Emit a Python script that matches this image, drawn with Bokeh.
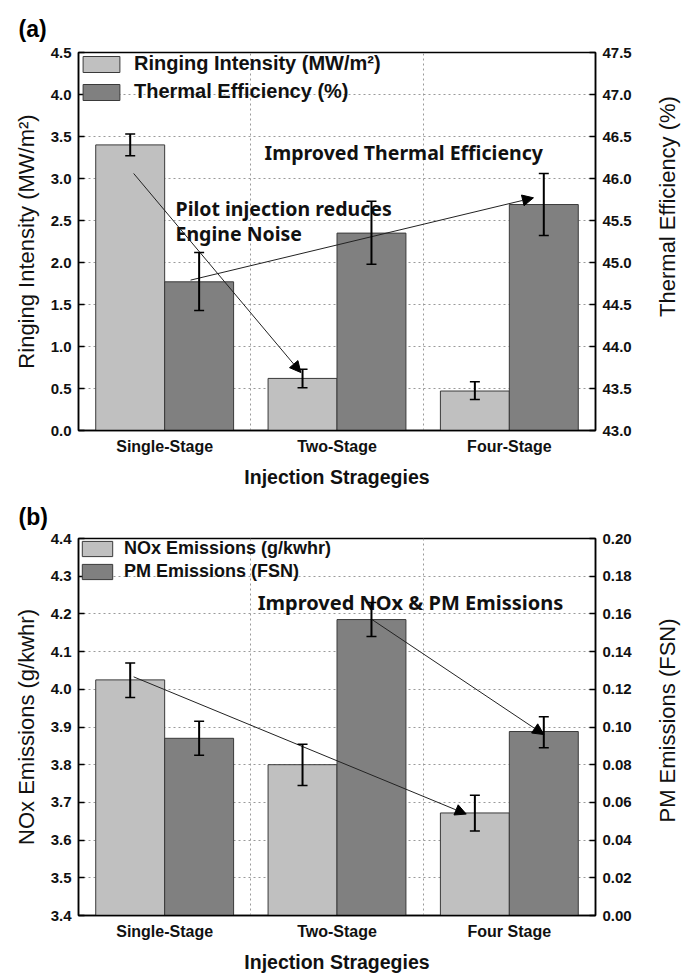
from bokeh.plotting import figure
from bokeh.models import (Range1d, LinearAxis, FixedTicker, Whisker, TeeHead, Arrow, NormalHead,
                          Label, Legend, LegendItem, ColumnDataSource, Grid, PrintfTickFormatter, Title)
from bokeh.layouts import column, row
from bokeh.embed import file_html
from bokeh.resources import INLINE

# ---------------- data ----------------
categories_a = ["Single-Stage", "Two-Stage", "Four-Stage"]
ringing = [3.40, 0.62, 0.47]
ringing_lo = [3.27, 0.51, 0.37]
ringing_hi = [3.53, 0.73, 0.58]
thermal = [44.77, 45.35, 45.69]
thermal_lo = [44.43, 44.98, 45.32]
thermal_hi = [45.12, 45.73, 46.06]

categories_b = ["Single-Stage", "Two-Stage", "Four Stage"]
nox = [4.025, 3.80, 3.672]
nox_lo = [3.978, 3.745, 3.624]
nox_hi = [4.070, 3.854, 3.719]
pm = [0.094, 0.157, 0.0976]
pm_lo = [0.085, 0.148, 0.089]
pm_hi = [0.103, 0.166, 0.1055]

left_ticks_a = [0.0, 0.5, 1.0, 1.5, 2.0, 2.5, 3.0, 3.5, 4.0, 4.5]
right_ticks_a = [43.0, 43.5, 44.0, 44.5, 45.0, 45.5, 46.0, 46.5, 47.0, 47.5]
left_ticks_b = [3.4, 3.5, 3.6, 3.7, 3.8, 3.9, 4.0, 4.1, 4.2, 4.3, 4.4]
right_ticks_b = [0.00, 0.02, 0.04, 0.06, 0.08, 0.10, 0.12, 0.14, 0.16, 0.18, 0.20]

LIGHT = "#c0c0c0"
DARK = "#808080"
EDGE = "#3a3a3a"
AX_FONT = "Liberation Sans"
ANN_FONT = "Noto Sans"
MAIN_W = 652
SIDE_W = 29


def no_align(fig):
    if "frame_align" in fig.properties():
        fig.frame_align = False


def panel(cats, s1, s1lo, s1hi, s2, s2lo, s2hi, lrange, rrange, lticks, rticks,
          lfmt, rfmt, lname, leg1, leg2, height, btop, bbottom, leg_font,
          glyph_w, glyph_h, leg_spacing, leg_pad, leg_standoff, tag, tag_standoff):
    centers = [0.5, 1.5, 2.5]
    p = figure(width=MAIN_W, height=height, x_range=Range1d(0, 3), y_range=Range1d(*lrange),
               output_backend="svg", toolbar_location=None,
               min_border_left=78, min_border_right=MAIN_W - 595, min_border_top=btop,
               min_border_bottom=bbottom)
    no_align(p)
    p.title = Title(text=tag, align="left", offset=-60, standoff=tag_standoff,
                    text_font=AX_FONT, text_font_style="bold", text_font_size="23px",
                    text_color="black")
    p.extra_y_ranges = {"r": Range1d(*rrange)}
    p.outline_line_color = "black"
    p.outline_line_width = 1.5
    p.background_fill_color = "white"
    p.border_fill_color = "white"

    x1 = [c - 0.2 for c in centers]
    x2 = [c + 0.2 for c in centers]
    src1 = ColumnDataSource(dict(x=x1, top=s1, lo=s1lo, hi=s1hi))
    src2 = ColumnDataSource(dict(x=x2, top=s2, lo=s2lo, hi=s2hi))
    r1 = p.vbar(x="x", top="top", bottom=lrange[0], width=0.4, source=src1,
                fill_color=LIGHT, line_color=EDGE, line_width=1)
    r2 = p.vbar(x="x", top="top", bottom=rrange[0], width=0.4, source=src2,
                fill_color=DARK, line_color=EDGE, line_width=1, y_range_name="r")

    for src, rn in ((src1, "default"), (src2, "r")):
        w = Whisker(base="x", upper="hi", lower="lo", source=src, line_width=2,
                    line_color="black", y_range_name=rn, level="overlay",
                    upper_head=TeeHead(size=10, line_width=1.5, line_color="black"),
                    lower_head=TeeHead(size=10, line_width=1.5, line_color="black"))
        p.add_layout(w)

    # axes
    p.xaxis.ticker = FixedTicker(ticks=centers)
    p.xaxis.major_label_overrides = {c: n for c, n in zip(centers, cats)}
    p.xaxis.major_tick_line_color = None
    p.xaxis.major_tick_in = 0
    p.xaxis.major_tick_out = 0
    p.xaxis.minor_tick_line_color = None
    p.xaxis.axis_line_width = 1.5
    p.xaxis.major_label_text_font = AX_FONT
    p.xaxis.major_label_text_font_style = "bold"
    p.xaxis.major_label_text_font_size = "16px"
    p.xaxis.major_label_text_color = "#111111"
    p.xaxis.major_label_standoff = 7
    p.xaxis.axis_label = "Injection Stragegies"
    p.xaxis.axis_label_text_font = AX_FONT
    p.xaxis.axis_label_text_font_style = "bold"
    p.xaxis.axis_label_text_font_size = "19.5px"
    p.xaxis.axis_label_text_color = "#111111"
    p.xaxis.axis_label_standoff = 8

    p.yaxis.ticker = FixedTicker(ticks=lticks)
    p.yaxis.formatter = PrintfTickFormatter(format=lfmt)
    ra = LinearAxis(y_range_name="r", ticker=FixedTicker(ticks=rticks),
                    formatter=PrintfTickFormatter(format=rfmt))
    p.add_layout(ra, "right")
    for ax in (p.yaxis[0], ra):
        ax.major_tick_in = 6
        ax.major_tick_out = 0
        ax.major_tick_line_width = 1.5
        ax.minor_tick_line_color = None
        ax.axis_line_width = 1.5
        ax.major_label_text_font = AX_FONT
        ax.major_label_text_font_style = "bold"
        ax.major_label_text_font_size = "15px"
        ax.major_label_text_color = "#111111"
        ax.major_label_standoff = 7
    p.yaxis[0].axis_label = lname
    p.yaxis[0].axis_label_text_font = AX_FONT
    p.yaxis[0].axis_label_text_font_style = "normal"
    p.yaxis[0].axis_label_text_font_size = "22px"
    p.yaxis[0].axis_label_text_color = "#111111"
    p.yaxis[0].axis_label_standoff = 9

    # grids
    p.xgrid.visible = False
    p.ygrid.ticker = FixedTicker(ticks=lticks)
    p.ygrid.grid_line_color = "#9a9a9a"
    p.ygrid.grid_line_dash = "2 3"
    p.ygrid.grid_line_width = 1
    vg = Grid(dimension=0, ticker=FixedTicker(ticks=[1.0, 2.0]), grid_line_color="#9a9a9a",
              grid_line_dash="2 3", grid_line_width=1)
    p.add_layout(vg)

    legend = Legend(items=[LegendItem(label=leg1, renderers=[r1]),
                           LegendItem(label=leg2, renderers=[r2])],
                    location="top_left", margin=0, padding=leg_pad, spacing=leg_spacing,
                    glyph_width=glyph_w, glyph_height=glyph_h, label_standoff=leg_standoff,
                    label_text_font=AX_FONT, label_text_font_style="bold",
                    label_text_font_size=leg_font, label_text_color="#111111",
                    border_line_color=None, background_fill_alpha=0)
    p.add_layout(legend)
    return p


def side_label(text, height, top, bottom):
    """Narrow strip carrying the right-hand axis title, reading bottom-to-top."""
    s = figure(width=SIDE_W, height=height, x_range=Range1d(0, 1), y_range=Range1d(0, 1),
               output_backend="svg", toolbar_location=None, x_axis_location=None,
               min_border_left=SIDE_W - 2, min_border_right=0,
               min_border_top=top, min_border_bottom=bottom)
    no_align(s)
    s.outline_line_color = None
    s.grid.visible = False
    s.background_fill_color = "white"
    s.border_fill_color = "white"
    ax = s.yaxis[0]
    ax.ticker = FixedTicker(ticks=[])
    ax.major_tick_in = 0
    ax.major_tick_out = 0
    ax.minor_tick_line_color = None
    ax.major_tick_line_color = None
    ax.axis_line_color = None
    ax.major_label_standoff = 0
    ax.axis_label = text
    ax.axis_label_standoff = 2
    ax.axis_label_text_font = AX_FONT
    ax.axis_label_text_font_style = "normal"
    ax.axis_label_text_font_size = "22px"
    ax.axis_label_text_color = "#111111"
    return s


pa = panel(categories_a, ringing, ringing_lo, ringing_hi, thermal, thermal_lo, thermal_hi,
           (0.0, 4.5), (43.0, 47.5), left_ticks_a, right_ticks_a, "%.1f", "%.1f",
           "Ringing Intensity (MW/m²)",
           "Ringing Intensity (MW/m²)", "Thermal Efficiency (%)",
           490, 52, 60, "20px", 46, 20, 5, 9, 10, "(a)", 22)

ann = dict(text_font=ANN_FONT, text_font_style="bold", text_baseline="middle",
           text_color="#111111")
pa.add_layout(Label(x=1.08, y=3.31, text="Improved Thermal Efficiency", text_font_size="19.5px", **ann))
pa.add_layout(Label(x=0.563, y=2.64, text="Pilot injection reduces", text_font_size="19.5px", **ann))
pa.add_layout(Label(x=0.563, y=2.35, text="Engine Noise", text_font_size="19.5px", **ann))
pa.add_layout(Arrow(x_start=0.32, y_start=3.06, x_end=1.29, y_end=0.69, line_width=1,
                    line_color="#222222",
                    end=NormalHead(size=11, fill_color="black", line_color="black")))
pa.add_layout(Arrow(x_start=0.65, y_start=1.79, x_end=2.64, y_end=2.77, line_width=1,
                    line_color="#222222",
                    end=NormalHead(size=11, fill_color="black", line_color="black")))

pb = panel(categories_b, nox, nox_lo, nox_hi, pm, pm_lo, pm_hi,
           (3.4, 4.4), (0.0, 0.2), left_ticks_b, right_ticks_b, "%.1f", "%.2f",
           "NOx Emissions (g/kwhr)",
           "NOx Emissions (g/kwhr)", "PM Emissions (FSN)",
           485, 48, 58, "18px", 38, 19, 2, 8, 8, "(b)", 18)

pb.add_layout(Label(x=1.04, y=4.231, text="Improved NOx & PM Emissions", text_font_size="20px", **ann))
pb.add_layout(Arrow(x_start=0.32, y_start=4.033, x_end=2.25, y_end=3.669, line_width=1,
                    line_color="#222222",
                    end=NormalHead(size=11, fill_color="black", line_color="black")))
pb.add_layout(Arrow(x_start=1.70, y_start=4.186, x_end=2.70, y_end=3.88, line_width=1,
                    line_color="#222222",
                    end=NormalHead(size=11, fill_color="black", line_color="black")))

sa = side_label("Thermal Efficiency (%)", 490, 52, 130)
sb = side_label("PM Emissions (FSN)", 485, 48, 73)

layout = column(row(pa, sa, spacing=0), row(pb, sb, spacing=0), spacing=0)
open("out.html", "w").write(file_html(layout, INLINE))
